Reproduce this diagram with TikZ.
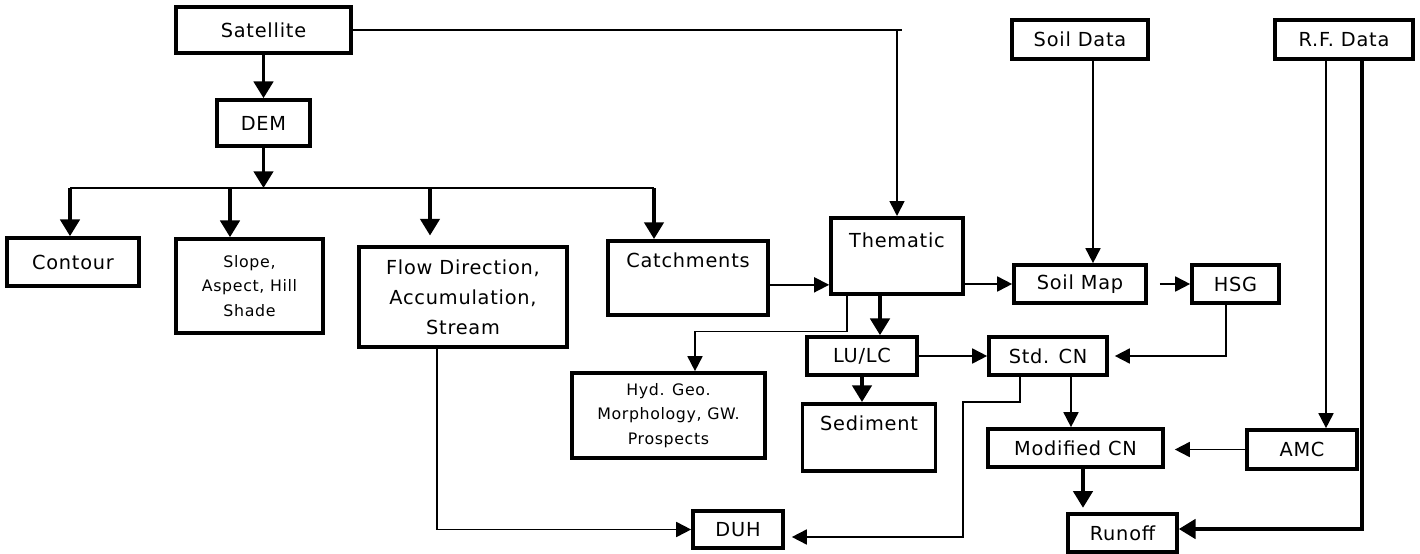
\documentclass[tikz,border=0pt]{standalone}
\usepackage{fontspec}
\setmainfont{DejaVu Sans}[LetterSpace=4]
\usetikzlibrary{arrows.meta}

\begin{document}
\begin{tikzpicture}[x=0.02cm, y=-0.02cm,
    caixa/.style={draw, line width=2.1pt, inner sep=0pt, align=center, font=\fontsize{11}{17}\selectfont},
    miuda/.style={font=\fontsize{9}{14}\selectfont},
    fina/.style={line width=1pt, -{Triangle[length=8.5pt,width=8.5pt]}},
    grossa/.style={line width=2pt, -{Triangle[length=9.5pt,width=11pt]}}]
    \useasboundingbox (0,0) rectangle (1420,554);
    % Entradas
    \node[caixa, minimum width=3.5cm, minimum height=0.92cm] (sat) at (263.5,30) {Satellite};
    \node[caixa, minimum width=1.86cm, minimum height=0.92cm] (dem) at (263.5,123) {DEM};
    \node[caixa, minimum width=2.72cm, minimum height=0.78cm] (solo) at (1080,39.5) {Soil Data};
    \node[caixa, minimum width=2.76cm, minimum height=0.78cm] (chuva) at (1344,39.5) {R.F. Data};
    % Produtos do DEM
    \node[caixa, minimum width=2.64cm, minimum height=0.96cm] (cont) at (73,262) {Contour};
    \node[caixa, miuda, minimum width=2.94cm, minimum height=1.88cm] (decl) at (249.5,286) {Slope,\\Aspect, Hill\\Shade};
    \node[caixa, minimum width=4.16cm, minimum height=2cm] (fluxo) at (463,297) {Flow Direction,\\Accumulation,\\Stream};
    \node[caixa, anchor=north, minimum width=3.2cm, text height=15.4pt, text depth=26.7pt] (bacia) at (688,239) {Catchments};
    % Tematicos
    \node[caixa, anchor=north, minimum width=2.64cm, text height=17pt, text depth=26.2pt] (tema) at (897,216) {Thematic};
    \node[caixa, minimum width=2.2cm, minimum height=0.76cm] (uso) at (862,356) {LU/LC};
    \node[caixa, miuda, minimum width=3.86cm, minimum height=1.7cm] (hidro) at (668.5,415.5) {Hyd. Geo.\\Morphology, GW.\\Prospects};
    \node[caixa, anchor=north, minimum width=2.66cm, text height=15.4pt, text depth=22.7pt] (sed) at (869,402) {Sediment};
    % Curve number
    \node[caixa, minimum width=2.64cm, minimum height=0.76cm] (mapa) at (1080,284) {Soil Map};
    \node[caixa, minimum width=1.74cm, minimum height=0.76cm] (hsg) at (1235.5,284) {HSG};
    \node[caixa, minimum width=2.36cm, minimum height=0.76cm] (cn) at (1048,356) {Std. CN};
    \node[caixa, minimum width=3.5cm, minimum height=0.76cm] (cnmod) at (1075.5,448) {Modified CN};
    \node[caixa, minimum width=2.2cm, minimum height=0.78cm] (amc) at (1302,449.5) {AMC};
    \node[caixa, minimum width=2.18cm, minimum height=0.76cm] (escoa) at (1122.5,533) {Runoff};
    \node[caixa, minimum width=1.8cm, minimum height=0.74cm] (duh) at (738,529.5) {DUH};

    % Barramento do DEM
    \coordinate (b1) at (70,188);
    \coordinate (b2) at (230,188);
    \coordinate (b3) at (430,188);
    \coordinate (b4) at (654,188);
    \draw[grossa] (sat) -- (dem);
    \draw[grossa] (dem.south) -- (dem.south |- b1);
    \draw[line width=1.6pt] (b1) -- (b4);
    \draw[grossa] (b1) -- (b1 |- cont.north);
    \draw[grossa] (b2) -- (b2 |- decl.north);
    \draw[grossa, shorten >=5.5pt] (b3) -- (b3 |- fluxo.north);
    \draw[grossa] (b4) -- (b4 |- bacia.north);
    % Satelite para tematico
    \draw[line width=1.6pt] (sat.east) -- ([xshift=0.1cm]sat.east -| tema.north);
    \draw[fina] (sat.east -| tema.north) -- (tema.north);
    \draw[fina] ([yshift=-0.14cm]bacia.east) -- ([yshift=-0.14cm]bacia.east -| tema.west);
    \draw[fina] (mapa.west -| tema.east) -- (mapa.west);
    \draw[grossa] ([xshift=-0.34cm]tema.south) -- ([xshift=-0.34cm]tema.south |- uso.north);
    \draw[fina] ([xshift=-1cm]tema.south) -- ++(0,36) -| ([xshift=0.53cm]hidro.north);
    \draw[grossa] (uso.south) -- (uso.south |- sed.north);
    % Solo e CN
    \draw[fina] ([xshift=0.26cm]solo.south) -- ([xshift=0.26cm]solo.south |- mapa.north);
    \draw[fina] ([xshift=0.24cm]mapa.east) -- (hsg.west);
    \draw[fina] ([xshift=-0.19cm]hsg.south) |- ([xshift=0.12cm]cn.east);
    \draw[fina] (uso.east) -- (cn.west);
    \draw[fina] ([xshift=0.46cm]cn.south) -- ([xshift=0.46cm]cn.south |- cnmod.north);
    \draw[fina] ([xshift=-0.36cm]chuva.south) -- ([xshift=-0.36cm]chuva.south |- amc.north);
    \draw[fina] (amc.west) -- ([xshift=0.2cm]amc.west -| cnmod.east);
    \draw[grossa, shorten >=2.5pt] ([xshift=0.15cm]cnmod.south) -- ([xshift=0.15cm]cnmod.south |- escoa.north);
    \draw[grossa] ([xshift=0.36cm]chuva.south) |- ([yshift=0.08cm]escoa.east);
    % DUH
    \draw[fina] ([xshift=-0.52cm]fluxo.south) |- (duh.west);
    \draw[fina] ([xshift=-0.56cm]cn.south) -- ++(0,25) -- ++(-57,0) |- ([xshift=0.14cm,yshift=-0.15cm]duh.east);
\end{tikzpicture}
\end{document}
